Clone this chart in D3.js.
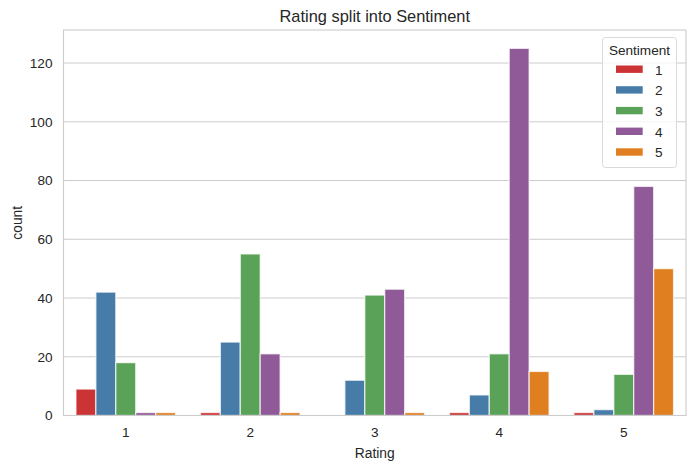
<!DOCTYPE html>
<html>
<head>
<meta charset="utf-8">
<script src="https://cdn.jsdelivr.net/npm/d3@7"></script>
<style>
  html, body { margin: 0; padding: 0; background: #fff; }
  svg { display: block; font-family: Arial, "Liberation Sans", sans-serif; }
  text { fill: #262626; }
</style>
</head>
<body>
<script>
// data
const ratings = ['1', '2', '3', '4', '5'];
const sentiments = ['1', '2', '3', '4', '5'];
// counts per rating, one array per sentiment
const sent1 = [9, 1, 0, 1, 1];
const sent2 = [42, 25, 12, 7, 2];
const sent3 = [18, 55, 41, 21, 14];
const sent4 = [1, 21, 43, 125, 78];
const sent5 = [1, 1, 1, 15, 50];
const yTicks = [0, 20, 40, 60, 80, 100, 120];

// seaborn Set1, desaturated
const colors = ['#cb3335', '#477ca8', '#59a257', '#905998', '#df7f20'];

const w = 692, h = 468;
const margin = {top: 30, right: 6, bottom: 52.5, left: 63.5};
const plotW = w - margin.left - margin.right;
const plotH = h - margin.top - margin.bottom;

const series = [sent1, sent2, sent3, sent4, sent5];
const rows = [];
series.forEach((vals, si) => {
  vals.forEach((v, ri) => {
    if (v > 0) rows.push({rating: ratings[ri], sentiment: sentiments[si], si, value: v});
  });
});

const svg = d3.select('body').append('svg')
  .attr('width', w)
  .attr('height', h);

const g = svg.append('g')
  .attr('transform', `translate(${margin.left},${margin.top})`);

const x = d3.scaleBand()
  .domain(ratings)
  .range([0, plotW])
  .paddingInner(0.2)
  .paddingOuter(0.1);

const xInner = d3.scaleBand()
  .domain(sentiments)
  .range([0, x.bandwidth()]);

const yMax = d3.max(series, s => d3.max(s)) * 1.05;
const y = d3.scaleLinear()
  .domain([0, yMax])
  .range([plotH, 0]);

// grid lines
g.append('g')
  .selectAll('line')
  .data(yTicks)
  .enter().append('line')
    .attr('x1', 0)
    .attr('x2', plotW)
    .attr('y1', d => y(d))
    .attr('y2', d => y(d))
    .attr('stroke', '#cccccc')
    .attr('stroke-width', 1);

// bars
g.append('g')
  .selectAll('rect')
  .data(rows)
  .enter().append('rect')
    .attr('x', d => x(d.rating) + xInner(d.sentiment))
    .attr('y', d => y(d.value))
    .attr('width', xInner.bandwidth())
    .attr('height', d => y(0) - y(d.value))
    .attr('fill', d => colors[d.si])
    .attr('stroke', '#fff')
    .attr('stroke-opacity', 0.7)
    .attr('stroke-width', 1.3);

// spines
g.append('rect')
  .attr('x', 0)
  .attr('y', 0)
  .attr('width', plotW)
  .attr('height', plotH)
  .attr('fill', 'none')
  .attr('stroke', '#cccccc')
  .attr('stroke-width', 1.1);

// axes
const yAxis = g.append('g')
  .call(d3.axisLeft(y).tickValues(yTicks).tickSize(0).tickPadding(11));
yAxis.select('.domain').remove();
yAxis.selectAll('text')
  .attr('font-size', '13.6px')
  .attr('fill', '#262626');

const xAxis = g.append('g')
  .attr('transform', `translate(0,${plotH})`)
  .call(d3.axisBottom(x).tickSize(0).tickPadding(12));
xAxis.select('.domain').remove();
xAxis.selectAll('text')
  .attr('font-size', '13.6px')
  .attr('fill', '#262626');

// labels
svg.append('text')
  .attr('x', margin.left + plotW / 2)
  .attr('y', 458)
  .attr('text-anchor', 'middle')
  .attr('font-size', '13.8px')
  .text('Rating');

svg.append('text')
  .attr('transform', `translate(22,${margin.top + plotH / 2}) rotate(-90)`)
  .attr('text-anchor', 'middle')
  .attr('font-size', '13.8px')
  .text('count');

svg.append('text')
  .attr('x', margin.left + plotW / 2)
  .attr('y', 22)
  .attr('text-anchor', 'middle')
  .attr('font-size', '16.4px')
  .text('Rating split into Sentiment');

// legend
const legend = svg.append('g')
  .attr('transform', 'translate(602.5,37.5)');

legend.append('rect')
  .attr('width', 74)
  .attr('height', 130)
  .attr('rx', 3)
  .attr('fill', '#fff')
  .attr('fill-opacity', 0.8)
  .attr('stroke', '#d9d9d9')
  .attr('stroke-width', 1);

legend.append('text')
  .attr('x', 37)
  .attr('y', 17)
  .attr('text-anchor', 'middle')
  .attr('font-size', '13.6px')
  .text('Sentiment');

const items = legend.selectAll('g.item')
  .data(sentiments)
  .enter().append('g')
    .attr('class', 'item')
    .attr('transform', (d, i) => `translate(0,${28 + i * 20.7})`);

items.append('rect')
  .attr('x', 13.5)
  .attr('y', 0)
  .attr('width', 26.7)
  .attr('height', 7.4)
  .attr('fill', (d, i) => colors[i]);

items.append('text')
  .attr('x', 52.5)
  .attr('y', 9)
  .attr('font-size', '13.6px')
  .text(d => d);
</script>
</body>
</html>
